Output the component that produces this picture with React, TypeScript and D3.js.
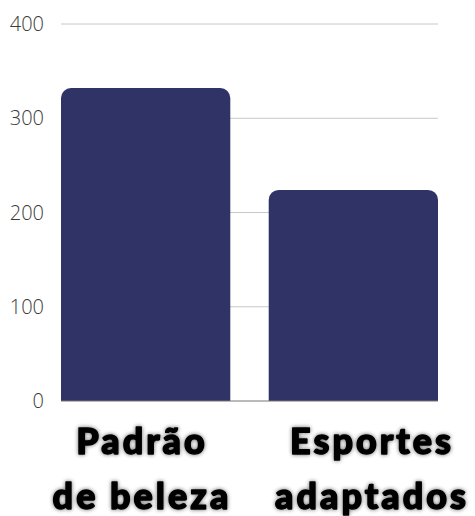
import React from "react";
import * as d3 from "d3";

const categories = ["Padrão|de beleza", "Esportes|adaptados"];
const values = [332, 224];
const yTicks = [0, 100, 200, 300, 400];

const W = 475;
const H = 516;
const left = 61;
const right = 438;
const top = 24;
const bottom = 401;

export default function App() {
  const x = d3.scaleBand<string>().domain(categories).range([left, right]).paddingInner(0.185).paddingOuter(0);
  const y = d3.scaleLinear().domain([0, 400]).range([bottom, top]);
  const labelX = d3.scalePoint<string>().domain(categories).range([142, 372]);
  const r = 10;

  const barPath = (c: string, v: number) => {
    const x0 = x(c)!;
    const x1 = x0 + x.bandwidth();
    const y0 = y(0);
    const y1 = y(v);
    const p = d3.path();
    p.moveTo(x0, y0);
    p.lineTo(x0, y1 + r);
    p.arcTo(x0, y1, x0 + r, y1, r);
    p.lineTo(x1 - r, y1);
    p.arcTo(x1, y1, x1, y1 + r, r);
    p.lineTo(x1, y0);
    p.closePath();
    return p.toString();
  };

  return (
    <svg width={W} height={H} style={{ position: "absolute", left: 0, top: 0 }}>
      <defs>
        <filter id="glow" x="-20%" y="-40%" width="140%" height="180%">
          <feGaussianBlur in="SourceAlpha" stdDeviation="2" result="b" />
          <feComponentTransfer in="b" result="b2">
            <feFuncA type="linear" slope="0.6" />
          </feComponentTransfer>
          <feMerge>
            <feMergeNode in="b2" />
            <feMergeNode in="SourceGraphic" />
          </feMerge>
        </filter>
      </defs>
      <rect width={W} height={H} fill="#fff" />
      {yTicks.map((t) => (
        <g key={t}>
          {t > 0 && (
            <line x1={left} x2={right} y1={y(t)} y2={y(t)} stroke="#c8c8c8" strokeWidth={1} />
          )}
          <text
            x={44}
            y={y(t)}
            dy="0.36em"
            textAnchor="end"
            fontFamily="'Open Sans', sans-serif"
            fontWeight={300}
            fontSize={20}
            fill="#3a3a3a"
          >
            {t}
          </text>
        </g>
      ))}
      {categories.map((c, i) => (
        <path key={c} d={barPath(c, values[i])} fill="#2f3366" />
      ))}
      <line x1={left} x2={right} y1={y(0)} y2={y(0)} stroke="#777" strokeWidth={1} />
      {categories.map((c) => (
        <text
          key={c}
          textAnchor="middle"
          fontFamily="Lato, sans-serif"
          fontWeight={900}
          fontSize={36}
          letterSpacing={3}
          fill="#000"
          stroke="#000"
          strokeWidth={1.4}
          strokeLinejoin="round"
          filter="url(#glow)"
        >
          {c.split("|").map((line, j) => (
            <tspan key={j} x={labelX(c)} y={454 + j * 55}>
              {line}
            </tspan>
          ))}
        </text>
      ))}
    </svg>
  );
}
